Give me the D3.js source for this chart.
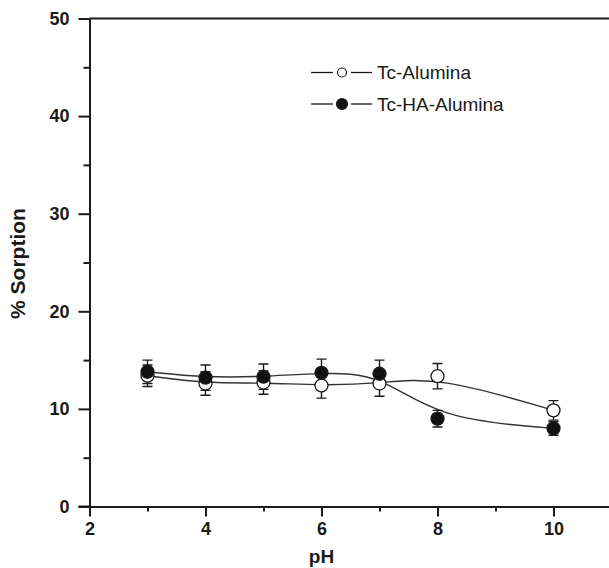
<!DOCTYPE html>
<html><head><meta charset="utf-8">
<script src="https://cdn.jsdelivr.net/npm/d3@7"></script>
<style>
html,body{margin:0;padding:0;background:#fff;}
svg{display:block;font-family:"Liberation Sans",Arial,sans-serif;}
</style></head>
<body><svg id="c" width="609" height="568"></svg>
<script>
const pH = [3, 4, 5, 6, 7, 8, 10];
const aluminaValues = [13.4, 12.6, 12.7, 12.4, 12.6, 13.35, 9.85];
const aluminaErrors = [1.1, 1.2, 1.2, 1.3, 1.3, 1.3, 1.0];
const haAluminaValues = [13.8, 13.2, 13.3, 13.7, 13.6, 9.0, 8.0];
const haAluminaErrors = [1.2, 1.3, 1.3, 1.4, 1.4, 0.85, 0.7];
const seriesNames = ["Tc-Alumina", "Tc-HA-Alumina"];
const xTicks = [2, 4, 6, 8, 10];
const xMinorTicks = [3, 5, 7, 9];
const yTicks = [0, 10, 20, 30, 40, 50];
const yMinorTicks = [5, 15, 25, 35, 45];

const svg = d3.select("#c");
const x = d3.scaleLinear().domain([2, 11]).range([89.5, 611.5]);
const y = d3.scaleLinear().domain([0, 50]).range([506.5, 18.5]);
const ink = "#1a1a1a";

// frame top/right
svg.append("path")
  .attr("d", `M${x(2)},${y(50)}H${x(11)}V${y(0)}`)
  .attr("fill", "none").attr("stroke", ink).attr("stroke-width", 2);

// minor ticks
svg.append("g").attr("transform", `translate(0,${y(0)})`)
  .call(d3.axisBottom(x).tickValues(xMinorTicks).tickSize(5).tickFormat(""))
  .call(g => g.select(".domain").remove());
svg.append("g").attr("transform", `translate(${x(2)},0)`)
  .call(d3.axisLeft(y).tickValues(yMinorTicks).tickSize(6).tickFormat(""))
  .call(g => g.select(".domain").remove());

const xAxis = svg.append("g").attr("transform", `translate(0,${y(0)})`)
  .call(d3.axisBottom(x).tickValues(xTicks).tickSize(10).tickSizeOuter(0).tickPadding(6));
const yAxis = svg.append("g").attr("transform", `translate(${x(2)},0)`)
  .call(d3.axisLeft(y).tickValues(yTicks).tickSize(11).tickSizeOuter(0).tickPadding(9));

svg.selectAll(".tick line").attr("stroke", ink).attr("stroke-width", 2);
svg.selectAll(".domain").attr("stroke", ink).attr("stroke-width", 2);
[xAxis, yAxis].forEach(g => g.selectAll("text")
  .attr("font-size", 18).attr("font-weight", "bold").attr("fill", ink)
  .attr("font-family", "Liberation Sans, Arial, sans-serif"));
// extend x axis line to the left of y axis
svg.append("line").attr("x1", x(2) - 11).attr("x2", x(2)).attr("y1", y(0)).attr("y2", y(0))
  .attr("stroke", ink).attr("stroke-width", 2);

// axis titles
svg.append("text").attr("x", x(6)).attr("y", 563).attr("text-anchor", "middle")
  .attr("font-size", 19).attr("font-weight", "bold").attr("fill", ink).text("pH");
svg.append("text").attr("transform", `translate(25,${y(25) + 1}) rotate(-90)`)
  .attr("text-anchor", "middle").attr("font-size", 21).attr("font-weight", "bold")
  .attr("fill", ink).text("% Sorption");

const series = [
  {name: seriesNames[0], vals: aluminaValues, errs: aluminaErrors, fill: "#fff"},
  {name: seriesNames[1], vals: haAluminaValues, errs: haAluminaErrors, fill: "#111"}
];

const line = d3.line().x(d => x(d[0])).y(d => y(d[1])).curve(d3.curveBasis);

series.forEach(s => {
  const pts = pH.map((p, i) => [p, s.vals[i]]);
  svg.append("path").attr("d", line(pts)).attr("fill", "none")
    .attr("stroke", "#333").attr("stroke-width", 1.4);
});

series.forEach(s => {
  const g = svg.append("g");
  pH.forEach((p, i) => {
    const cx = x(p), top = y(s.vals[i] + s.errs[i]), bot = y(s.vals[i] - s.errs[i]);
    g.append("path")
      .attr("d", `M${cx},${top}V${bot}M${cx - 5},${top}H${cx + 5}M${cx - 5},${bot}H${cx + 5}`)
      .attr("stroke", ink).attr("stroke-width", 1.4).attr("fill", "none");
  });
});

series.forEach(s => {
  svg.append("g").selectAll("circle").data(pH).join("circle")
    .attr("cx", d => x(d)).attr("cy", (d, i) => y(s.vals[i])).attr("r", 6.5)
    .attr("fill", s.fill).attr("stroke", ink).attr("stroke-width", 1.3);
});

// legend
series.forEach((s, i) => {
  const ly = 72.5 + i * 31.5;
  const g = svg.append("g");
  g.append("line").attr("x1", 311).attr("x2", 333).attr("y1", ly).attr("y2", ly)
    .attr("stroke", ink).attr("stroke-width", 1.3);
  g.append("line").attr("x1", 351).attr("x2", 372).attr("y1", ly).attr("y2", ly)
    .attr("stroke", ink).attr("stroke-width", 1.3);
  g.append("circle").attr("cx", 342).attr("cy", ly).attr("r", i === 0 ? 4.5 : 5.5)
    .attr("fill", s.fill).attr("stroke", ink).attr("stroke-width", 1.2);
  g.append("text").attr("x", 377).attr("y", ly + 6.5).attr("font-size", 19)
    .attr("fill", ink).text(s.name);
});
</script></body></html>
